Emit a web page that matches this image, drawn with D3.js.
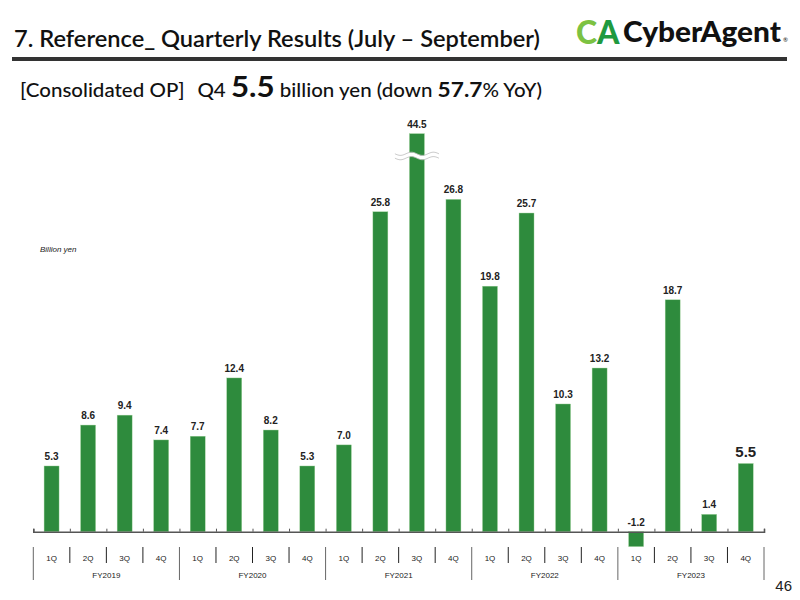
<!DOCTYPE html>
<html>
<head>
<meta charset="utf-8">
<script src="https://cdn.jsdelivr.net/npm/d3@7"></script>
<style>
  html, body { margin: 0; padding: 0; background: #fff; }
  svg { display: block; }
  .hd { font-family: Lato, "Noto Sans", sans-serif; fill: #111; }
  .lbl { font-family: "Liberation Sans", Arial, sans-serif; font-weight: bold; fill: #222; }
  .cat { font-family: "Liberation Sans", Arial, sans-serif; font-size: 8px; fill: #222; }
</style>
</head>
<body>
<svg id="chart" width="800" height="600"></svg>
<script>
// data
const years = ['FY2019', 'FY2020', 'FY2021', 'FY2022', 'FY2023'];
const quarters = ['1Q', '2Q', '3Q', '4Q'];
const opValues = [
  5.3, 8.6, 9.4, 7.4,
  7.7, 12.4, 8.2, 5.3,
  7.0, 25.8, 44.5, 26.8,
  19.8, 25.7, 10.3, 13.2,
  -1.2, 18.7, 1.4, 5.5
];
const BREAK_CAP = 32.1; // bar drawn to this height when the axis is broken

const rows = [];
years.forEach((fy, i) => quarters.forEach((q, j) => {
  rows.push({ key: fy + q, fy, q, v: opValues[i * 4 + j] });
}));

const svg = d3.select('#chart');
const GREEN = '#2e8b3d';

// header
svg.append('text').attr('class', 'hd').attr('x', 14).attr('y', 47)
  .attr('font-size', 22).attr('font-weight', 600)
  .attr('textLength', 526).attr('lengthAdjust', 'spacingAndGlyphs')
  .text('7. Reference_ Quarterly Results (July – September)');
svg.append('rect').attr('x', 12).attr('y', 57).attr('width', 775).attr('height', 4).attr('fill', '#333');

// logo
const logo = svg.append('g');
logo.append('text').attr('x', 576).attr('y', 44).attr('font-family', 'Lato, sans-serif')
  .attr('font-weight', 900).attr('font-size', 32).attr('fill', '#7cc242').text('C');
logo.append('text').attr('x', 597).attr('y', 44).attr('font-family', 'Lato, sans-serif')
  .attr('font-weight', 900).attr('font-size', 32).attr('fill', '#1f9a3f').text('A');
logo.append('text').attr('x', 623).attr('y', 42).attr('font-family', 'Lato, sans-serif')
  .attr('font-weight', 900).attr('font-size', 29).attr('fill', '#111')
  .attr('textLength', 158).attr('lengthAdjust', 'spacingAndGlyphs').text('CyberAgent');
logo.append('text').attr('x', 783).attr('y', 42).attr('font-family', 'Lato, sans-serif')
  .attr('font-size', 6).attr('fill', '#111').text('®');

// subtitle
const sub = svg.append('text').attr('class', 'hd').attr('x', 20).attr('y', 97).attr('font-size', 19)
  .attr('font-weight', 500).attr('textLength', 522).attr('lengthAdjust', 'spacingAndGlyphs');
sub.append('tspan').text('[Consolidated OP]');
sub.append('tspan').attr('dx', 12).text('Q4 ');
sub.append('tspan').attr('font-size', 29).attr('font-weight', 700).text('5.5');
sub.append('tspan').text(' billion yen (down ');
sub.append('tspan').attr('font-size', 21).attr('font-weight', 700).text('57.7');
sub.append('tspan').text('% YoY)');

// scales
const x = d3.scaleBand().domain(rows.map(d => d.key)).range([33.3, 764]).padding(0);
const y = d3.scaleLinear().domain([0, 40]).range([531.7, 35.7]);
const bw = x.bandwidth() * 0.41;

svg.append('text').attr('x', 40).attr('y', 252)
  .attr('font-family', '"Liberation Sans", Arial, sans-serif').attr('font-size', 8)
  .attr('font-style', 'italic').attr('fill', '#222').text('Billion yen');

// bars
svg.append('g').selectAll('rect').data(rows).join('rect')
  .attr('x', d => x(d.key) + (x.bandwidth() - bw) / 2)
  .attr('width', bw)
  .attr('y', d => y(Math.max(0, Math.min(d.v, BREAK_CAP))))
  .attr('height', d => Math.abs(y(Math.min(d.v, BREAK_CAP)) - y(0)))
  .attr('fill', GREEN)
  .attr('stroke', '#9fd29a').attr('stroke-width', 0.4);

// axis break marker on the capped bar
rows.filter(d => d.v > BREAK_CAP).forEach(d => {
  const cx = x(d.key) + x.bandwidth() / 2;
  const by = y(BREAK_CAP - 1.8);
  const wave = (off) => {
    const pts = d3.range(-22, 23, 1).map(t => [cx + t, by + off + 1.6 * Math.sin(t / 3.5)]);
    return d3.line()(pts);
  };
  svg.append('path').attr('d', wave(0)).attr('stroke', '#fff').attr('stroke-width', 4).attr('fill', 'none');
  svg.append('path').attr('d', wave(-2.2)).attr('stroke', '#bbb').attr('stroke-width', 0.8).attr('fill', 'none');
  svg.append('path').attr('d', wave(2.2)).attr('stroke', '#bbb').attr('stroke-width', 0.8).attr('fill', 'none');
});

// value labels
svg.append('g').selectAll('text').data(rows).join('text')
  .attr('class', 'lbl')
  .attr('x', d => x(d.key) + x.bandwidth() / 2)
  .attr('y', (d, i) => y(Math.max(0, Math.min(d.v, BREAK_CAP))) - (i === rows.length - 1 ? 7 : 6))
  .attr('text-anchor', 'middle')
  .attr('font-size', (d, i) => i === rows.length - 1 ? 15 : 10)
  .text(d => d.v.toFixed(1));

// zero axis with small up ticks at band edges
const axis = d3.axisTop(d3.scaleLinear().domain([0, rows.length]).range(x.range()))
  .ticks(rows.length).tickSize(3).tickFormat('');
svg.append('g').attr('transform', `translate(0,${y(0)})`).call(axis)
  .call(g => g.select('.domain').attr('stroke', '#555').attr('stroke-width', 1.6))
  .call(g => g.selectAll('.tick line').attr('stroke', '#555'));

// category rows below
const cats = svg.append('g');
rows.forEach((d, i) => {
  const x0 = x(d.key);
  const isYear = i % 4 === 0;
  cats.append('line').attr('x1', x0).attr('x2', x0).attr('y1', 547).attr('y2', isYear ? 580 : 563)
    .attr('stroke', isYear ? '#666' : '#222').attr('stroke-width', 1);
  cats.append('text').attr('class', 'cat').attr('x', x0 + x.bandwidth() / 2).attr('y', 561)
    .attr('text-anchor', 'middle').text(d.q);
});
cats.append('line').attr('x1', x.range()[1]).attr('x2', x.range()[1]).attr('y1', 547).attr('y2', 580)
  .attr('stroke', '#666');
years.forEach((fy, i) => {
  const xa = x(fy + '1Q'), xb = x(fy + '4Q') + x.bandwidth();
  cats.append('text').attr('class', 'cat').attr('x', (xa + xb) / 2).attr('y', 578)
    .attr('text-anchor', 'middle').text(fy);
});

// page number
svg.append('text').attr('x', 792).attr('y', 591).attr('text-anchor', 'end')
  .attr('font-family', '"Liberation Sans", Arial, sans-serif').attr('font-size', 15)
  .attr('fill', '#222').text('46');
</script>
</body>
</html>
